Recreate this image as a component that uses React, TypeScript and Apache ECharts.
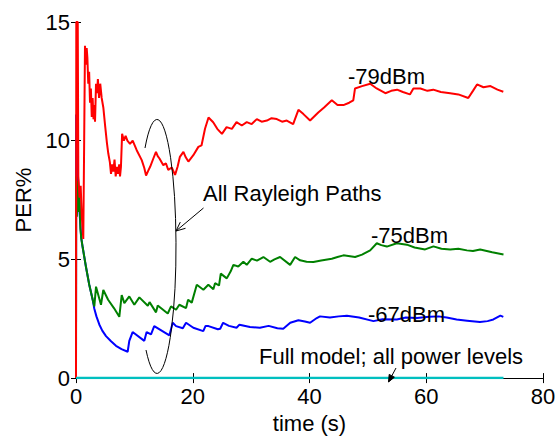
import React, { useEffect, useRef } from "react";
import * as echarts from "echarts";

const xTicks = [0, 20, 40, 60, 80];
const yTicks = [0, 5, 10, 15];

const redData: [number, number][] = [
  [0, 0], [0.05, 15], [0.3, 15], [0.4, 8.5], [0.6, 7.6], [0.8, 8.1], [1.0, 6.8], [1.25, 5.86], [1.4, 10.0],
  [1.54, 14.0], [1.7, 13.2], [1.83, 13.9], [1.95, 13.5], [2.1, 12.4], [2.25, 12.9], [2.4, 11.6], [2.55, 12.2],
  [2.7, 11.0], [2.85, 11.8], [3.0, 10.9], [3.15, 11.5], [3.26, 10.8], [3.43, 12.4], [3.6, 12.0], [3.75, 12.6],
  [3.95, 11.8], [4.15, 12.4], [4.4, 11.8], [4.68, 11.4], [5.0, 10.6], [5.3, 9.9], [5.54, 9.45], [5.8, 9.1],
  [6.0, 8.6], [6.2, 9.0], [6.4, 8.7], [6.6, 9.2], [6.8, 8.5], [7.0, 8.9], [7.2, 8.6], [7.4, 9.0], [7.54, 8.5],
  [7.7, 8.9], [7.9, 10.29], [8.2, 10.0], [8.5, 10.2], [8.8, 10.0], [9.25, 9.87], [9.71, 10.0], [10.4, 9.6],
  [11.26, 9.18], [11.7, 8.85], [12.0, 8.53], [12.4, 8.75], [12.7, 8.9], [13.25, 9.25], [13.7, 9.53], [14.0, 9.35],
  [14.3, 9.25], [14.96, 8.97], [15.4, 9.05], [15.8, 8.77], [16.4, 8.87], [16.97, 8.56], [17.4, 8.9], [17.8, 9.32],
  [18.4, 9.53], [18.8, 9.3], [19.25, 9.12], [20.1, 9.39], [20.96, 9.74], [21.5, 9.8], [22.1, 10.5], [22.7, 10.98],
  [23.5, 10.78], [24.2, 10.5], [25.0, 10.29], [25.8, 10.57], [26.7, 10.5], [27.5, 10.78], [28.4, 10.64],
  [29.25, 10.78], [30.1, 10.7], [30.97, 10.91], [31.8, 10.8], [32.7, 10.85], [33.5, 10.95], [34.4, 10.91],
  [35.3, 10.8], [36.1, 10.85], [37.2, 10.7], [38.1, 11.3], [38.96, 11.12], [40.1, 10.85], [41.5, 11.19],
  [42.5, 11.4], [43.82, 11.7], [44.8, 11.5], [45.81, 11.5], [46.8, 11.6], [47.5, 11.7], [47.8, 12.2], [49.0, 12.3],
  [50.4, 12.4], [51.5, 12.2], [53.0, 12.0], [54.0, 12.1], [55.0, 12.15], [56.0, 12.05], [57.2, 11.95], [57.8, 12.2],
  [59.0, 12.2], [60.2, 12.1], [61.2, 12.15], [62.5, 12.05], [64.1, 12.0], [65.5, 11.95], [67.2, 11.8], [68.0, 12.1],
  [68.7, 12.37], [69.8, 12.25], [71.0, 12.3], [72.2, 12.15], [73.2, 12.06],
];

const greenData: [number, number][] = [
  [0, 0], [0.03, 8.5], [0.15, 6.8], [0.3, 8.3], [0.45, 7.0], [0.6, 7.9], [0.75, 6.3], [0.9, 5.9], [1.15, 5.5],
  [1.71, 4.68], [2.28, 3.92], [2.86, 3.3], [3.14, 3.02], [3.43, 3.85], [4.28, 3.09], [4.68, 3.71], [5.5, 3.3],
  [6.5, 2.95], [7.42, 2.58], [7.83, 3.5], [8.28, 3.16], [9.13, 3.44], [9.99, 3.09], [10.85, 3.4], [12.3, 3.05],
  [12.6, 3.2], [13.71, 2.77], [14.0, 3.06], [15.72, 2.72], [16.28, 3.02], [17.14, 2.88], [17.7, 3.09],
  [18.85, 2.95], [19.2, 3.3], [19.83, 3.18], [20.69, 3.93], [21.82, 3.72], [22.67, 3.93], [23.53, 3.74],
  [23.82, 4.0], [24.5, 3.9], [24.8, 4.4], [25.83, 4.2], [26.5, 4.5], [26.96, 4.77], [27.8, 4.7], [28.67, 4.9],
  [29.25, 4.77], [30.11, 5.03], [31.0, 4.95], [32.1, 5.1], [33.25, 4.9], [34.0, 5.0], [34.96, 5.1], [36.68, 4.77],
  [37.53, 5.1], [38.39, 4.96], [39.5, 4.9], [40.67, 4.89], [42.0, 4.95], [43.82, 5.03], [44.8, 5.1], [45.81, 5.17],
  [47.81, 5.1], [49.0, 5.2], [50.39, 5.38], [51.53, 5.68], [52.3, 5.6], [53.25, 5.54], [54.96, 5.68], [56.68, 5.62],
  [58.0, 5.5], [59.81, 5.42], [61.23, 5.55], [62.6, 5.45], [64.1, 5.42], [65.5, 5.45], [66.96, 5.38], [68.0, 5.35],
  [69.24, 5.42], [71.3, 5.3], [73.23, 5.21],
];

const blueData: [number, number][] = [
  [0, 0], [0.03, 11.1], [0.2, 9.0], [0.4, 8.2], [0.6, 7.0], [0.9, 5.9], [1.15, 5.5], [1.71, 4.68], [2.28, 3.92],
  [2.86, 3.3], [3.14, 2.92], [3.5, 2.6], [3.99, 2.26], [4.5, 2.0], [5.14, 1.77], [6.0, 1.55], [6.85, 1.36],
  [7.8, 1.22], [8.85, 1.11], [9.13, 1.57], [9.7, 1.94], [11.7, 1.57], [12.1, 1.94], [12.85, 1.84], [13.4, 2.19],
  [16.0, 1.8], [16.57, 2.33], [17.14, 2.19], [18.3, 2.1], [18.85, 2.33], [20.1, 2.12], [21.8, 1.98], [22.2, 2.2],
  [22.7, 2.19], [24.3, 2.06], [24.7, 2.08], [25.2, 2.33], [26.2, 2.2], [27.5, 2.12], [28.0, 2.25], [29.8, 2.15],
  [31.5, 2.12], [33.0, 2.2], [34.5, 2.1], [35.5, 2.08], [36.7, 2.33], [38.1, 2.44], [39.2, 2.38], [40.1, 2.33],
  [41.25, 2.53], [41.8, 2.6], [43.5, 2.55], [45.0, 2.6], [46.4, 2.63], [48.5, 2.55], [50.95, 2.4], [52.5, 2.48],
  [54.96, 2.47], [56.5, 2.55], [58.4, 2.53], [60.5, 2.58], [62.1, 2.6], [63.5, 2.55], [65.2, 2.47], [67.0, 2.42],
  [69.2, 2.36], [70.5, 2.4], [71.5, 2.47], [72.7, 2.63], [73.2, 2.58],
];

const cyanData: [number, number][] = [[0, 0], [73.23, 0]];

const seriesNames = ["-67dBm", "-75dBm", "-79dBm", "Full model"];
const seriesColors = ["#0000ff", "#008000", "#ff0000", "#00bfbf"];
const seriesWidths = [2, 2, 2, 2.5];

const FONT = '"Liberation Sans", Arial, Helvetica, sans-serif';

export default function App() {
  const ref = useRef<HTMLDivElement>(null);
  useEffect(() => {
    if (!ref.current) return;
    echarts.graphic.registerShape(
      "ellipseArc",
      echarts.graphic.extendPath("M145 148 A19 127 0 1 1 146 350", {})
    );
    const chart = echarts.init(ref.current, null, { renderer: "svg" });
    const axisCommon = {
      type: "value" as const,
      axisLine: { show: true, lineStyle: { color: "#000", width: 1 } },
      axisTick: { show: true, inside: true, length: 5, lineStyle: { color: "#000" } },
      splitLine: { show: false },
    };
    const datasets = [blueData, greenData, redData, cyanData];
    const txt = (text: string, x: number, y: number) => ({
      type: "text",
      x,
      y,
      style: { text, fill: "#000", font: `22px ${FONT}`, verticalAlign: "middle", align: "left" },
      z: 100,
    });
    chart.setOption({
      animation: false,
      backgroundColor: "#fff",
      grid: { left: 76, right: 17, top: 22, bottom: 56, containLabel: false },
      xAxis: [
        {
          ...axisCommon,
          min: xTicks[0],
          max: xTicks[xTicks.length - 1],
          interval: 20,
          name: "time (s)",
          nameLocation: "middle",
          nameGap: 32,
          nameTextStyle: { color: "#000", fontSize: 22, fontFamily: FONT },
          axisLabel: { color: "#000", fontSize: 22, fontFamily: FONT, margin: 7 },
        },
        {
          ...axisCommon,
          position: "top",
          min: xTicks[0],
          max: xTicks[xTicks.length - 1],
          interval: 20,
          axisLabel: { show: false },
        },
      ],
      yAxis: [
        {
          ...axisCommon,
          min: yTicks[0],
          max: yTicks[yTicks.length - 1],
          interval: 5,
          name: "PER%",
          nameLocation: "middle",
          nameGap: 40,
          nameTextStyle: { color: "#000", fontSize: 22, fontFamily: FONT },
          axisLabel: { color: "#000", fontSize: 22, fontFamily: FONT, margin: 6 },
        },
        {
          ...axisCommon,
          position: "right",
          min: yTicks[0],
          max: yTicks[yTicks.length - 1],
          interval: 5,
          axisLabel: { show: false },
        },
      ],
      series: datasets.map((d, i) => ({
        name: seriesNames[i],
        type: "line",
        data: d,
        showSymbol: false,
        symbol: "none",
        lineStyle: { color: seriesColors[i], width: seriesWidths[i] },
        itemStyle: { color: seriesColors[i] },
        z: 2 + i,
      })),
      graphic: [
        txt("-79dBm", 348, 76),
        txt("-75dBm", 371, 235),
        txt("-67dBm", 368, 314),
        txt("All Rayleigh Paths", 203, 193),
        txt("Full model; all power levels", 259, 356),
        {
          type: "ellipseArc",
          x: 0,
          y: 0,
          style: { fill: "none", stroke: "#000", lineWidth: 1 },
          z: 100,
        },
        {
          type: "line",
          shape: { x1: 203.5, y1: 208, x2: 176, y2: 231 },
          style: { stroke: "#000", lineWidth: 1 },
          z: 100,
        },
        {
          type: "polyline",
          shape: { points: [[185.5, 228.3], [176, 231], [180.3, 222.1]] },
          style: { stroke: "#000", lineWidth: 1, fill: "none" },
          z: 100,
        },
        {
          type: "line",
          shape: { x1: 396, y1: 368, x2: 388.5, y2: 382 },
          style: { stroke: "#000", lineWidth: 1 },
          z: 100,
        },
        {
          type: "polygon",
          shape: { points: [[394.4, 377.2], [388.5, 382], [389.2, 374.4]] },
          style: { stroke: "#000", lineWidth: 1, fill: "#000" },
          z: 100,
        },
      ],
    });
    return () => chart.dispose();
  }, []);
  return (
    <div
      ref={ref}
      style={{ position: "absolute", left: 0, top: 0, width: 560, height: 439, background: "#fff" }}
    />
  );
}
